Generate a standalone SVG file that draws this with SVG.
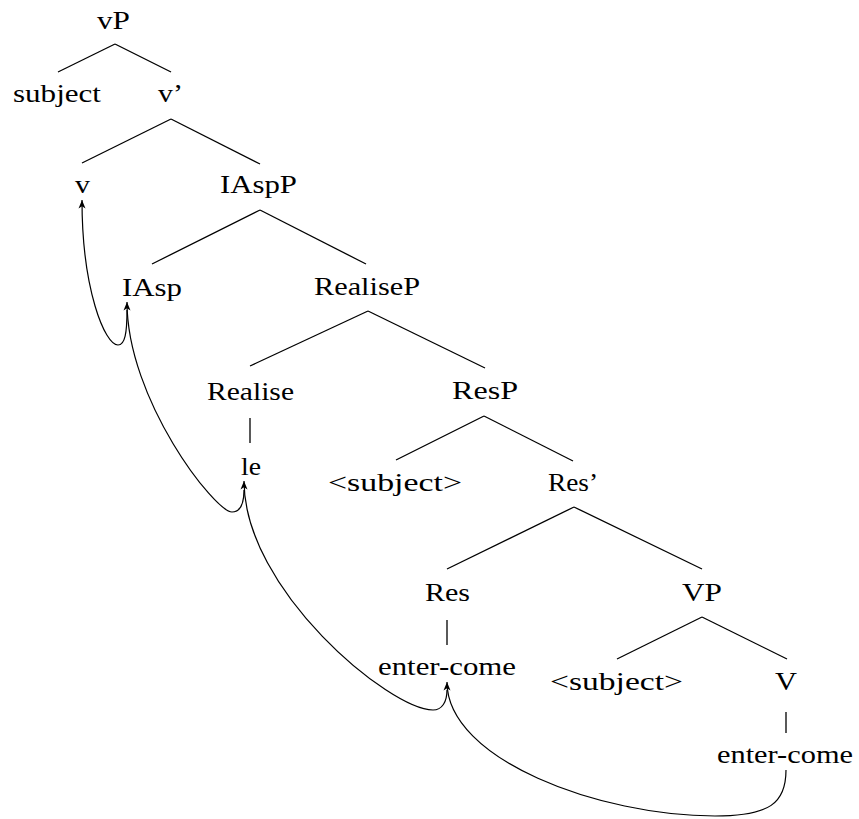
<svg xmlns="http://www.w3.org/2000/svg" width="859" height="819" viewBox="0 0 859 819">
<style>
.e{stroke:#000;stroke-width:1.3;fill:none;stroke-linecap:butt}
.m{stroke:#000;stroke-width:1.2;fill:none;marker-end:url(#ah)}
</style>
<defs>
<marker id="ah" viewBox="0 0 10 8" markerWidth="10" markerHeight="8" refX="9" refY="4" orient="auto" markerUnits="userSpaceOnUse">
<path d="M0.5,0.5 L9,4 L0.5,7.5 L2.8,4 Z" fill="#000"/>
</marker>
</defs>
<rect width="859" height="819" fill="#fff"/>
<g id="connectors">
<g id="branches">
<line class="e" x1="115" y1="44" x2="58" y2="72"/>
<line class="e" x1="115" y1="44" x2="171" y2="72"/>
<line class="e" x1="171" y1="119" x2="82" y2="163"/>
<line class="e" x1="171" y1="119" x2="260" y2="164"/>
<line class="e" x1="260" y1="210" x2="152" y2="264"/>
<line class="e" x1="260" y1="210" x2="366" y2="264"/>
<line class="e" x1="368" y1="311" x2="250" y2="366"/>
<line class="e" x1="368" y1="311" x2="485" y2="368"/>
<line class="e" x1="250" y1="418" x2="250" y2="443"/>
<line class="e" x1="484" y1="416" x2="396" y2="460"/>
<line class="e" x1="484" y1="416" x2="573" y2="461"/>
<line class="e" x1="574" y1="507" x2="447" y2="569"/>
<line class="e" x1="574" y1="507" x2="702" y2="569"/>
<line class="e" x1="447" y1="620" x2="447" y2="645"/>
<line class="e" x1="702" y1="617" x2="617" y2="659"/>
<line class="e" x1="702" y1="617" x2="787" y2="659"/>
<line class="e" x1="786" y1="712" x2="786" y2="733"/>
</g>
<g id="movement">
<path class="m" d="M127,310 C127,333 125,345 118,345 C105,345 82,290 82,200"/>
<path class="m" d="M244,490 C244,504 241,512 232,512 C215,512 127,400 127,302"/>
<path class="m" d="M447,690 C447,702 442,710 433,710 C390,710 244,590 244,481"/>
<path class="m" d="M786,770 C786,803 770,816 715,816 C600,816 447,760 447,682"/>
</g>
</g>
<g id="nodes" font-family="Liberation Serif" font-size="26" fill="#000" text-anchor="middle">
<g id="n-vP"><text x="113.5" y="29" textLength="33" lengthAdjust="spacingAndGlyphs">vP</text></g>
<g id="n-subject"><text x="57" y="102" textLength="88" lengthAdjust="spacingAndGlyphs">subject</text></g>
<g id="n-vbar"><text x="170.5" y="102" textLength="25" lengthAdjust="spacingAndGlyphs">v’</text></g>
<g id="n-v"><text x="82.5" y="193" textLength="15" lengthAdjust="spacingAndGlyphs">v</text></g>
<g id="n-IAspP"><text x="258.5" y="193" textLength="77" lengthAdjust="spacingAndGlyphs">IAspP</text></g>
<g id="n-IAsp"><text x="152" y="296" textLength="60" lengthAdjust="spacingAndGlyphs">IAsp</text></g>
<g id="n-RealiseP"><text x="367" y="295" textLength="106" lengthAdjust="spacingAndGlyphs">RealiseP</text></g>
<g id="n-Realise"><text x="250.5" y="400" textLength="87" lengthAdjust="spacingAndGlyphs">Realise</text></g>
<g id="n-ResP"><text x="485" y="399" textLength="66" lengthAdjust="spacingAndGlyphs">ResP</text></g>
<g id="n-le"><text x="251" y="475" textLength="20" lengthAdjust="spacingAndGlyphs">le</text></g>
<g id="n-subject2"><text x="395" y="491" textLength="134" lengthAdjust="spacingAndGlyphs">&lt;subject&gt;</text></g>
<g id="n-Resbar"><text x="573" y="491" textLength="50" lengthAdjust="spacingAndGlyphs">Res’</text></g>
<g id="n-Res"><text x="447.5" y="601" textLength="45" lengthAdjust="spacingAndGlyphs">Res</text></g>
<g id="n-VP"><text x="702" y="601" textLength="40" lengthAdjust="spacingAndGlyphs">VP</text></g>
<g id="n-enter1"><text x="447" y="675" textLength="138" lengthAdjust="spacingAndGlyphs">enter-come</text></g>
<g id="n-subject3"><text x="616.5" y="690" textLength="133" lengthAdjust="spacingAndGlyphs">&lt;subject&gt;</text></g>
<g id="n-V"><text x="786" y="690" textLength="22" lengthAdjust="spacingAndGlyphs">V</text></g>
<g id="n-enter2"><text x="785" y="763" textLength="136" lengthAdjust="spacingAndGlyphs">enter-come</text></g>
</g>
</svg>
